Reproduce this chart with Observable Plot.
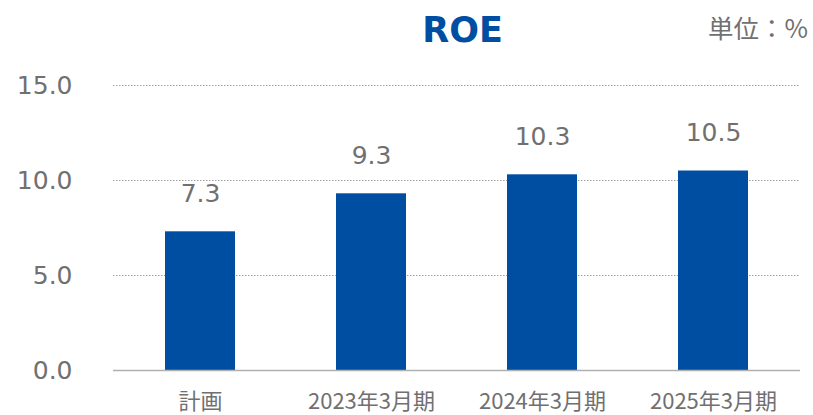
<!DOCTYPE html>
<html><head><meta charset="utf-8">
<script src="https://cdn.jsdelivr.net/npm/d3@7"></script>
<script src="https://cdn.jsdelivr.net/npm/@observablehq/plot@0.6"></script>
<style>
body{margin:0;background:#fff;}
#wrap{position:relative;width:813px;height:415px;}
#title{position:absolute;left:0;width:925px;top:10px;text-align:center;font:bold 35px "DejaVu Sans",Verdana,sans-serif;color:#004ea2;}
#unit{position:absolute;right:5px;top:8px;font:25.5px "Noto Sans CJK JP","DejaVu Sans",sans-serif;color:#707070;}
</style></head><body>
<div id="wrap"><div id="title">ROE</div><div id="unit">単位：%</div></div>
<script>
const categories = ["計画","2023年3月期","2024年3月期","2025年3月期"];
const values = [7.3, 9.3, 10.3, 10.5];
const yTicks = [0, 5, 10, 15];
const data = categories.map((c,i)=>({cat:c, v:values[i]}));
const chart = Plot.plot({
  width: 813, height: 415,
  marginTop: 85, marginBottom: 45, marginLeft: 113, marginRight: 13,
  style: {color:"#707070", background:"transparent"},
  x: {domain: categories, paddingInner: 0.59, paddingOuter: 0.295, label: null},
  y: {domain: [0, 15], label: null},
  marks: [
    Plot.ruleY(yTicks.filter(d=>d>0), {stroke:"#a0a0a0", strokeWidth:1, strokeDasharray:"1.5,1.5"}),
    Plot.barY(data, {x:"cat", y:"v", fill:"#004ea2"}),
    Plot.ruleY([0], {stroke:"#b0b0b0", strokeWidth:1.5}),
    Plot.text(data, {x:"cat", y:"v", text:d=>d.v.toFixed(1), dy:-38, fontSize:25, fill:"#707070", fontFamily:"DejaVu Sans, sans-serif"}),
    Plot.axisY({ticks: yTicks, tickFormat: d=>d.toFixed(1), tickSize:0, tickPadding:41, fontSize:25, fontFamily:"DejaVu Sans, sans-serif", label:null}),
    Plot.axisX({tickSize:0, tickPadding:23, fontSize:22, fontFamily:"Noto Sans CJK JP, sans-serif", label:null})
  ]
});
document.getElementById("wrap").prepend(chart);
</script>
</body></html>
